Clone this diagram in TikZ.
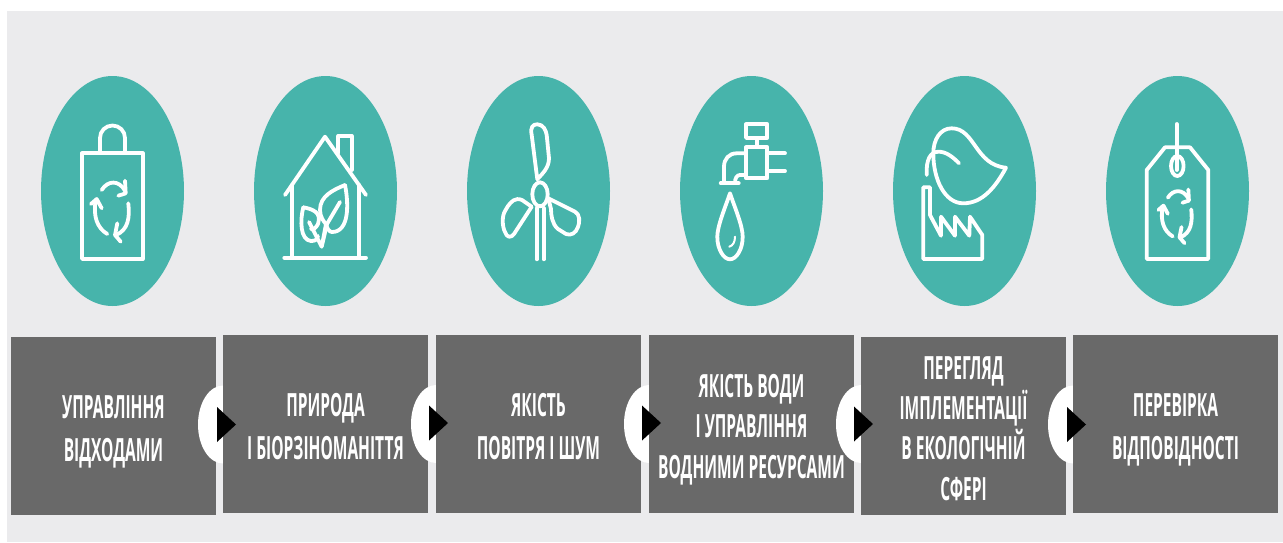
\documentclass[tikz,border=0pt]{standalone}
\usepackage{fontspec}
\newfontfamily\labelfont[FakeStretch=0.485]{Open Sans}
\usetikzlibrary{shapes.geometric, positioning, calc}

\definecolor{panelgray}{HTML}{EBEBED}
\definecolor{ovalteal}{HTML}{47B4AB}
\definecolor{boxgray}{HTML}{696969}

\begin{document}
\begin{tikzpicture}[
    x=1pt, y=-1pt,
    oval/.style={ellipse, fill=ovalteal, minimum width=143pt, minimum height=230pt, inner sep=0pt, outer sep=0pt},
    box/.style={rectangle, fill=boxgray, text=white, minimum width=205pt, minimum height=178pt, inner sep=0pt, outer sep=0pt, align=center,
        text height=70pt, text depth=0pt,
        font=\labelfont\bfseries\fontsize{32}{42.5}\selectfont},
    tightbox/.style={box, text height=#1, font=\labelfont\bfseries\fontsize{32}{40.3}\selectfont},
    notch/.style={ellipse, fill=white, minimum width=50pt, minimum height=78pt, inner sep=0pt, outer sep=0pt},
    marker/.style={isosceles triangle, isosceles triangle apex angle=85, isosceles triangle stretches, fill=black, minimum height=19pt, minimum width=35pt, inner sep=0pt, outer sep=0pt, anchor=lower side},
    icon/.style={draw=white, line width=3.8pt, line cap=round, line join=round},
    recycle/.pic={
        \draw[icon] (-9.3,-20) .. controls (-3,-30) and (8,-30) .. (14,-19.3);
        \draw[icon] (14,-29.3) -- (14.7,-16.7) -- (7.3,-14.3);
        \draw[icon] (17.3,-6.7) .. controls (19,8) and (17,20) .. (5,25);
        \draw[icon] (6.3,13.3) -- (4,25) -- (9.7,31.7);
        \draw[icon] (-3.7,24) .. controls (-14,18) and (-18,6) .. (-15.3,-9.3);
        \draw[icon] (-20,-6) -- (-14.3,-11) -- (-9.3,-1.7);
    },
]

    % Page and panel
    \fill[white] (0,0) rectangle (1283,542);
    \useasboundingbox (0,0) rectangle (1283,542);
    \fill[panelgray] (7,11) rectangle (1283,542);

    % Ovals
    \node[oval] (waste_oval) at (112.5,191) {};
    \node[oval, right=70pt of waste_oval] (nature_oval) {};
    \node[oval, right=70pt of nature_oval] (air_oval) {};
    \node[oval, right=70pt of air_oval] (water_oval) {};
    \node[oval, right=70pt of water_oval] (review_oval) {};
    \node[oval, right=70pt of review_oval] (check_oval) {};

    % Boxes, each one covers the right half of the notch before it
    \node[box] (waste_box) at (113.5,426) {УПРАВЛІННЯ\\ВІДХОДАМИ};
    \node[notch] (notch1) at ($(waste_box.east)+(7pt,1.5pt)$) {};
    \node[box, right=7pt of waste_box, yshift=2pt] (nature_box) {ПРИРОДА\\І БІОРЗІНОМАНІТТЯ};
    \node[notch] (notch2) at ($(nature_box.east)+(8pt,0pt)$) {};
    \node[box, right=8pt of nature_box] (air_box) {ЯКІСТЬ\\ПОВІТРЯ І ШУМ};
    \node[notch] (notch3) at ($(air_box.east)+(8pt,0pt)$) {};
    \node[tightbox=108pt, right=8pt of air_box] (water_box) {ЯКІСТЬ ВОДИ\\І УПРАВЛІННЯ\\ВОДНИМИ РЕСУРСАМИ};
    \node[notch] (notch4) at ($(water_box.east)+(7pt,0pt)$) {};
    \node[tightbox=148.4pt, right=7pt of water_box, yshift=-2pt] (review_box) {ПЕРЕГЛЯД\\ІМПЛЕМЕНТАЦІЇ\\В ЕКОЛОГІЧНІЙ\\СФЕРІ};
    \node[notch] (notch5) at ($(review_box.east)+(7pt,1.5pt)$) {};
    \node[box, right=7pt of review_box, yshift=2pt] (check_box) {ПЕРЕВІРКА\\ВІДПОВІДНОСТІ};

    % Black markers
    \node[marker] (marker1) at ($(notch1.center)+(-6pt,0pt)$) {};
    \node[marker] (marker2) at ($(notch2.center)+(-7pt,1pt)$) {};
    \node[marker] (marker3) at ($(notch3.center)+(-7pt,1pt)$) {};
    \node[marker] (marker4) at ($(notch4.center)+(-7pt,0pt)$) {};
    \node[marker] (marker5) at ($(notch5.center)+(-6pt,0pt)$) {};

    % Bag
    \draw[icon] (82,153.3) rectangle (142.7,259);
    \draw[icon] (100,153) -- (100,138) arc[start angle=180, end angle=360, radius=12.5] -- (125,153);
    \pic at (111,210) {recycle};

    % House with leaves
    \draw[icon] (285,195) -- (325,136.7) -- (366,195);
    \draw[icon] (338.3,153) -- (338.3,136) -- (351.7,136) -- (351.7,170);
    \draw[icon] (291.7,185) -- (291.7,257.7);
    \draw[icon] (359.3,185) -- (359.3,257.7);
    \draw[icon] (284.3,257.7) -- (366,257.7);
    \draw[icon] (345,185) .. controls (333,190) and (320,196) .. (320,210) .. controls (320,217) and (324,222) .. (326,224);
    \draw[icon] (345,185) .. controls (349,205) and (349,232) .. (332,232) .. controls (329,232) and (327,228) .. (326,224);
    \draw[icon] (340,202) -- (327,224) -- (321.7,246.7) -- (326,224);
    \draw[icon] (303.3,207.3) .. controls (312,209) and (322,212) .. (318,224) .. controls (316,228) and (313,230) .. (311,229);
    \draw[icon] (303.3,207.3) .. controls (300,220) and (300,240) .. (311,241) .. controls (315,241) and (317,240) .. (318,236);
    \draw[icon] (309,222) -- (321.7,246.7);

    % Wind turbine
    \draw[icon] (540,194.3) ellipse[x radius=7.7, y radius=12];
    \draw[icon] (536.7,208) -- (536.7,259.3);
    \draw[icon] (543.7,208) -- (543.7,259.3);
    \draw[icon] (537.3,179.3) -- (531.7,135) .. controls (530,127) and (533,124.3) .. (537.3,124.3) .. controls (543,124.3) and (546,130) .. (546.7,135) -- (549,158.3) .. controls (549,168) and (542,174) .. cycle;
    \draw[icon] (531.7,206.7) -- (522,200) .. controls (515,197) and (511,202) .. (508,206) -- (505,211) .. controls (502,216) and (502,226) .. (505,232) .. controls (507,238) and (511,238) .. (514,234) -- cycle;
    \draw[icon] (548.3,198.3) -- (575,211.7) .. controls (580,214) and (580,222) .. (578,227) .. controls (576,233) and (571,236) .. (566,234) -- (558,229) .. controls (552,224) and (551,215) .. (551,209) -- cycle;

    % Tap with a drop
    \draw[icon] (746,124.3) rectangle (767.3,138);
    \draw[icon] (756.7,138) -- (756.7,147);
    \draw[icon] (746,147.3) rectangle (767.3,178.3);
    \draw[icon] (767.3,153.3) -- (785,153.3);
    \draw[icon] (767.3,171) -- (785,171);
    \draw[icon] (746,153.3) -- (736.7,153.3) .. controls (729,153.3) and (724,159) .. (724,166.7) -- (724,182.7);
    \draw[icon] (746,175) -- (740,175) .. controls (737,175) and (735,178) .. (735,182.7);
    \draw[icon] (720.7,183.3) -- (738.7,183.3);
    \draw[icon] (730,193.3) .. controls (735,208) and (742.7,226) .. (742.7,236.7) .. controls (742.7,250) and (736,259.3) .. (730,259.3) .. controls (724,259.3) and (717.3,250) .. (717.3,236.7) .. controls (717.3,226) and (725,208) .. cycle;
    \draw[icon, line width=2pt] (735,236.7) .. controls (735,242) and (733,245.5) .. (729.3,246.7);

    % Leaf over a factory
    \draw[icon] (923.3,187.3) -- (930,187.3) -- (930,215) -- (941,235.7) -- (941,216.7) -- (955,235.7) -- (955,216.7) -- (969.3,235.7) -- (970,216.7) -- (982.3,235) -- (982.3,259) -- (923.3,259) -- cycle;
    \draw[icon] (1006,167.7) .. controls (975,165) and (975,128.3) .. (951.7,128.3) .. controls (940,128.3) and (933.3,140) .. (933.3,153.3) .. controls (933.3,180) and (945,203.3) .. (963.3,203.3) .. controls (982,203.3) and (995,188) .. cycle;
    \draw[icon] (926.7,175) .. controls (926,160) and (930,152) .. (938.3,151.7) .. controls (946,151.5) and (953,157) .. (959,163.3);

    % Price tag
    \draw[icon] (1176.7,124) -- (1176.7,170);
    \draw[icon] (1177.3,166) ellipse[x radius=6.3, y radius=10];
    \draw[icon] (1165,147.3) -- (1190,147.3) -- (1208.3,170) -- (1208.3,259) -- (1146.7,259) -- (1146.7,170) -- cycle;
    \pic[scale=0.88] at (1176,215.3) {recycle};

\end{tikzpicture}
\end{document}
